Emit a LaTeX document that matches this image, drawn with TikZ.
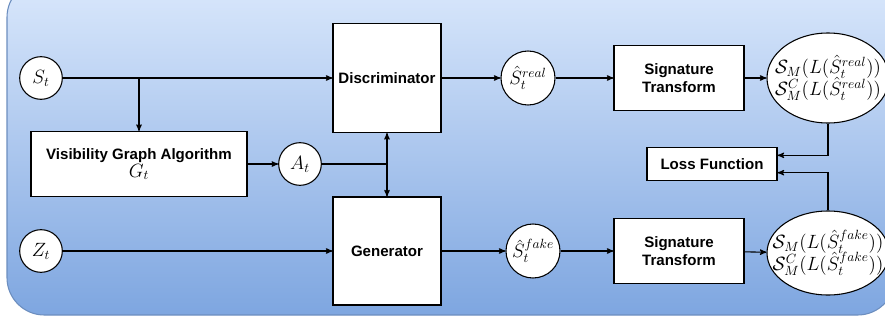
\documentclass[tikz,border=0pt]{standalone}
\usepackage{amsmath, amssymb}
\usepackage{fontspec}
\setsansfont{Liberation Sans}
\usepackage{tikz}
\usetikzlibrary{shapes,arrows,positioning,calc}
\definecolor{fondoarriba}{RGB}{218,232,252}
\definecolor{fondoabajo}{RGB}{126,166,224}
\definecolor{bordefondo}{RGB}{108,142,191}
\tikzset{
	block/.style = {
		draw, 
		fill=white, 
		rectangle, 
		line width=0.8pt, 
		align=center, 
		inner sep=2pt,
		font=\sffamily\bfseries\fontsize{11.3}{13.5}\selectfont
	},
	signal/.style = {
		->, 
		>=stealth', 
		line width=0.8pt
	},
	wire/.style = {
		line width=0.8pt
	},
	var/.style = {
		draw, 
		fill=white, 
		circle, 
		line width=0.8pt, 
		inner sep=0pt,
		font=\fontsize{14}{16}\selectfont
	},
	sig/.style = {
		draw, 
		fill=white, 
		ellipse, 
		line width=0.8pt, 
		inner sep=0pt,
		minimum width=91.5pt
	},
	sigtext/.style = {
		align=center,
		inner sep=0pt,
		font=\fontsize{14}{13}\selectfont
	}
}
\begin{document}
\begin{tikzpicture}[x=0.75pt, y=-0.75pt]
		
		% --- Fondo ---
		\useasboundingbox (0,0) rectangle (885,325);
		\clip (0,0) rectangle (885,325);
		\draw[bordefondo, line width=0.8pt, top color=fondoarriba, bottom color=fondoabajo, rounded corners=28pt]
		(7,-20) rectangle (895,315);
		
		% --- NODOS ---
		% Entradas
		\node [var, minimum size=32pt] (st) at (41,78) {$S_t$};
		\node [var, minimum size=32pt] (zt) at (41,251) {$Z_t$};
		
		% Algoritmo del grafo de visibilidad
		\node [block, minimum width=162pt, minimum height=48.75pt] (vga) at (139,164)
		{Visibility Graph Algorithm\\{\mdseries\fontsize{14}{16}\selectfont$G_t$}};
		\node [var, minimum size=32pt] (at) at (300,164) {$A_t$};
		
		% Red adversaria
		\node [block, minimum width=81pt, minimum height=81.75pt] (disc) at (387,78) {Discriminator};
		\node [block, minimum width=81pt, minimum height=81pt] (gen) at (387,251) {Generator};
		
		% Salidas
		\node [var, minimum size=40.5pt] (sReal) at (528,78) {$\hat{S}_t^{real}$};
		\node [var, minimum size=40.5pt] (sFake) at (533,251) {$\hat{S}_t^{fake}$};
		
		% Transformada de firma
		\node [block, minimum width=97.5pt, minimum height=48.75pt] (sigReal) at (679,78) {Signature\\Transform};
		\node [block, minimum width=97.5pt, minimum height=48.75pt] (sigFake) at (679,251) {Signature\\Transform};
		
		% Firmas
		\node [sig, minimum height=67.5pt,
			label={[sigtext]center:$\mathcal{S}_M(L(\hat{S}_t^{real}))$\\[-2pt]$\mathcal{S}_M^C(L(\hat{S}_t^{real}))$}]
			(eReal) at (828,78) {};
		\node [sig, minimum height=63pt,
			label={[sigtext]center:$\mathcal{S}_M(L(\hat{S}_t^{fake}))$\\[-2pt]$\mathcal{S}_M^C(L(\hat{S}_t^{fake}))$}]
			(eFake) at (828,253) {};
		
		% Funcion de perdida
		\node [block, minimum width=97.5pt, minimum height=24.75pt] (loss) at (712,164) {Loss Function};
		
		% Puntos auxiliares
		\coordinate (split) at (st -| vga);
		\coordinate (junc) at (at -| disc);
		
		% --- CONEXIONES ---
		\draw [signal] (st) -- (disc);
		\draw [signal] (split) -- (vga);
		\draw [signal] (vga) -- (at);
		\draw [wire] (at) -- (junc);
		\draw [signal] (junc) -- (disc);
		\draw [signal] (junc) -- (gen);
		\draw [signal] (zt) -- (gen);
		
		\draw [signal] (disc) -- (sReal);
		\draw [signal] (gen) -- (sFake);
		\draw [signal] (sReal) -- (sigReal);
		\draw [signal] (sFake) -- (sigFake);
		\draw [signal] (sigReal) -- (eReal);
		\draw [signal] (sigFake) -- (eFake);
		
		% Hacia la funcion de perdida
		\draw [signal] (eReal.south) |- ([yshift=6.5pt]loss.east);
		\draw [signal] (eFake.north) |- ([yshift=-6.5pt]loss.east);
		
	\end{tikzpicture}
\end{document}
